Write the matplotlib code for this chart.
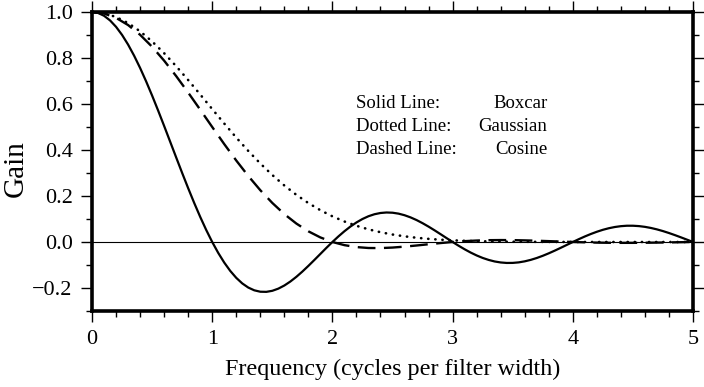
import matplotlib
matplotlib.use("Agg")
import matplotlib.pyplot as plt
from matplotlib.ticker import MultipleLocator

# Frequency samples (cycles per filter width).
freq_fine = [i / 20 for i in range(101)]
freq = [i / 10 for i in range(51)]

# Gain.
boxcar = [1.0, 0.9959, 0.9836, 0.9634, 0.9355, 0.9003, 0.8584, 0.8103, 0.7568, 0.6986,
          0.6366, 0.5716, 0.5046, 0.4363, 0.3679, 0.3001, 0.2339, 0.1700, 0.1093, 0.0524,
          0.0, -0.0474, -0.0894, -0.1257, -0.1559, -0.1801, -0.1981, -0.2101, -0.2162, -0.2168,
          -0.2122, -0.2028, -0.1892, -0.1719, -0.1515, -0.1286, -0.1039, -0.0781, -0.0518, -0.0255,
          0.0, 0.0243, 0.0468, 0.0672, 0.0850, 0.1000, 0.1120, 0.1207, 0.1261, 0.1283,
          0.1273, 0.1233, 0.1164, 0.1070, 0.0954, 0.0818, 0.0668, 0.0507, 0.0339, 0.0169,
          0.0, -0.0163, -0.0317, -0.0459, -0.0585, -0.0693, -0.0780, -0.0847, -0.0890, -0.0911,
          -0.0909, -0.0886, -0.0841, -0.0777, -0.0696, -0.0600, -0.0492, -0.0375, -0.0252, -0.0126,
          0.0, 0.0123, 0.0240, 0.0348, 0.0445, 0.0530, 0.0599, 0.0652, 0.0688, 0.0707,
          0.0707, 0.0691, 0.0658, 0.0610, 0.0548, 0.0474, 0.0390, 0.0298, 0.0201, 0.0101,
          0.0]
gaussian = [1.0, 0.9945, 0.9783, 0.9519, 0.9160, 0.8719, 0.8209, 0.7644, 0.7041, 0.6414,
            0.5779, 0.5151, 0.4540, 0.3959, 0.3414, 0.2912, 0.2457, 0.2050, 0.1692, 0.1382,
            0.1115, 0.0891, 0.0704, 0.0550, 0.0425, 0.0325, 0.0246, 0.0184, 0.0136, 0.0099,
            0.0072, 0.0052, 0.0036, 0.0026, 0.0018, 0.0012, 0.0008, 0.0006, 0.0004, 0.0002,
            0.0002, 0.0001, 0.0001, 0.0, 0.0, 0.0, 0.0, 0.0, 0.0, 0.0,
            0.0]
cosine = [1.0, 0.9935, 0.9745, 0.9433, 0.9010, 0.8488, 0.7884, 0.7214, 0.6497, 0.5753,
          0.5, 0.4257, 0.3543, 0.2871, 0.2252, 0.1698, 0.1213, 0.0802, 0.0464, 0.0198,
          0.0, -0.0137, -0.0221, -0.0261, -0.0265, -0.0242, -0.0202, -0.0152, -0.0098, -0.0046,
          0.0, 0.0037, 0.0063, 0.0079, 0.0084, 0.0081, 0.0070, 0.0055, 0.0037, 0.0018,
          0.0, -0.0015, -0.0027, -0.0034, -0.0037, -0.0037, -0.0033, -0.0026, -0.0018, -0.0009,
          0.0]

legend_left = ["Solid Line:", "Dotted Line:", "Dashed Line:"]
legend_right = ["Boxcar", "Gaussian", "Cosine"]

plt.rcParams["font.family"] = ["Liberation Serif", "DejaVu Serif"]

fig = plt.figure(figsize=(7.04, 3.87), dpi=100)
ax = fig.add_axes([0.1307, 0.1964, 0.8537, 0.7726])

ax.axhline(0, color="black", lw=0.8, zorder=1)
ax.plot(freq_fine, boxcar, color="black", lw=1.6, solid_joinstyle="round")
ax.plot(freq, gaussian, color="black", lw=1.9, linestyle=(0, (0.1, 2.6)),
        dash_capstyle="round")
ax.plot(freq, cosine, color="black", lw=1.7, linestyle=(0, (7.5, 3.6)))

for i in range(3):
    ax.text(2.2, 0.6 - 0.1 * i, legend_left[i], fontsize=13.5, ha="left", va="center")
    ax.text(3.79, 0.6 - 0.1 * i, legend_right[i], fontsize=13.5, ha="right", va="center")

ax.set_xlim(0, 5)
ax.set_ylim(-0.3, 1.0)
ax.xaxis.set_major_locator(MultipleLocator(1))
ax.xaxis.set_minor_locator(MultipleLocator(0.2))
ax.yaxis.set_major_locator(MultipleLocator(0.2))
ax.yaxis.set_minor_locator(MultipleLocator(0.1))
ax.set_yticks([1.0, 0.8, 0.6, 0.4, 0.2, 0.0, -0.2])
ax.set_yticklabels(["1.0", "0.8", "0.6", "0.4", "0.2", "0.0", "\u22120.2"])
ax.tick_params(which="both", direction="out", top=True, right=True, width=1.0)
ax.tick_params(which="major", length=8, pad=6, labelsize=16)
ax.tick_params(which="minor", length=4.5)
for s in ax.spines.values():
    s.set_linewidth(2.6)

ax.set_xlabel("Frequency (cycles per filter width)", fontsize=17.4, labelpad=7)
ax.set_ylabel("Gain", fontsize=21)
ax.yaxis.set_label_coords(-0.106, 0.478)

fig.savefig("out.png", dpi=100)
